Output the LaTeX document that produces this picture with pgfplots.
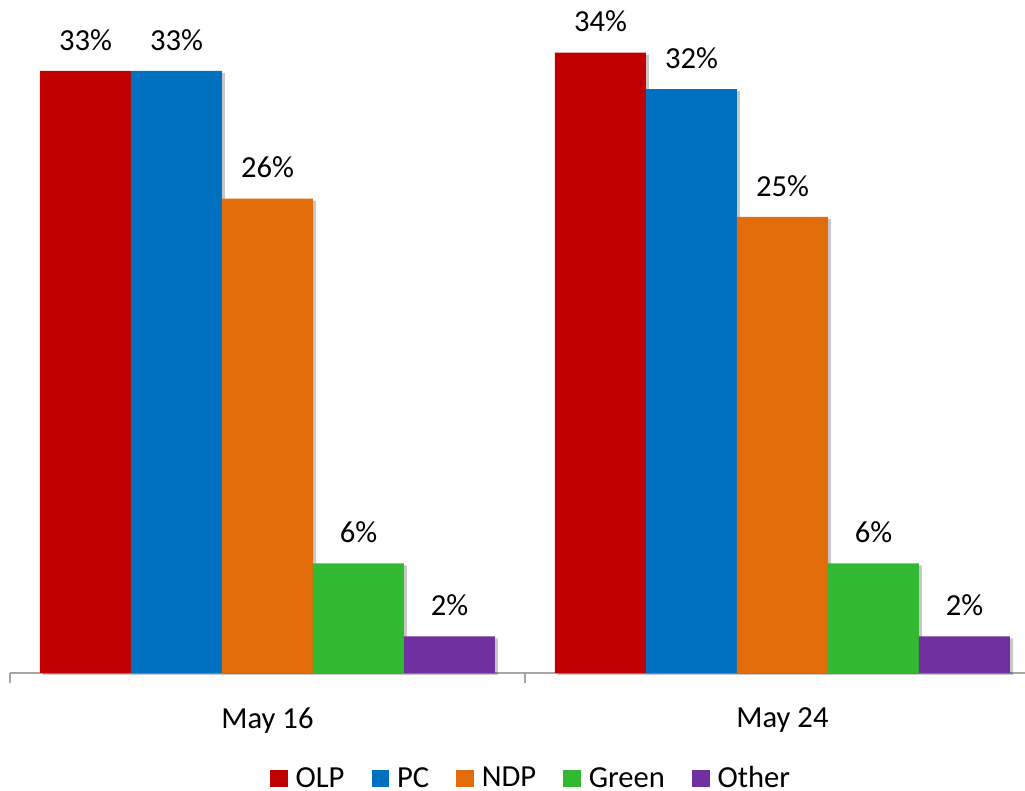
\documentclass[border=0pt]{standalone}
\usepackage{pgfplots}
\pgfplotsset{compat=1.18}
\usepackage{fontspec}
\setmainfont{Carlito}
\usetikzlibrary{shadows}
\definecolor{olp}{HTML}{C00000}
\definecolor{pc}{HTML}{0070C0}
\definecolor{ndp}{HTML}{E36C0A}
\definecolor{grn}{HTML}{31B931}
\definecolor{oth}{HTML}{7030A0}
\definecolor{axgray}{HTML}{A6A6A6}
\makeatletter
\tikzset{nopre/.code={\let\tikz@preactions\pgfutil@empty}}
\makeatother
\begin{document}
\begin{tikzpicture}
\useasboundingbox (0,0) rectangle (512.5pt,395.5pt);
\begin{axis}[
  at={(5pt,59pt)}, anchor=south west,
  scale only axis, width=507.5pt, height=336.5pt,
  xmin=-0.5, xmax=1.4709, ymin=0, ymax=36.88,
  clip=false,
  axis x line*=bottom, axis y line=none,
  x axis line style={axgray, line width=1pt},
  ybar=0pt, bar width=0.1767,
  xtick={0,1}, xticklabels={May 16, May 24},
  major tick length=0pt,
  minor xtick={-0.5,0.5,1.5},
  minor tick length=5pt,
  tick align=outside,
  minor tick style={axgray, line width=1pt},
  font=\fontsize{15.3}{18}\selectfont,
  xticklabel style={inner sep=0pt, anchor=north, yshift=-17.3pt},
  /pgf/number format/assume math mode=true,
  nodes near coords={\pgfmathprintnumber{\pgfplotspointmeta}\%},
  every node near coord/.append style={inner sep=0pt, anchor=south, yshift=10pt, black},
  every axis plot/.append style={draw=none, drop shadow={shadow xshift=1.5pt, shadow yshift=-1pt, fill=black, opacity=0.22}},
  legend image code/.code={\fill[#1, nopre] (0pt,-4.4pt) rectangle (8.8pt,4.4pt);},
  legend columns=-1,
  legend style={draw=none, fill=none, at={(0.5123,-0.157)}, anchor=center,
    nodes={inner sep=0pt},
    /tikz/every odd column/.append style={column sep=4pt},
    /tikz/every even column/.append style={column sep=13.5pt}},
]
\addplot[fill=olp] coordinates {(0,33) (1,34)};
\addplot[fill=pc] coordinates {(0,33) (1,32)};
\addplot[fill=ndp] coordinates {(0,26) (1,25)};
\addplot[fill=grn] coordinates {(0,6) (1,6)};
\addplot[fill=oth] coordinates {(0,2) (1,2)};
\legend{OLP,PC,NDP,Green,Other}
\end{axis}
\end{tikzpicture}
\end{document}
